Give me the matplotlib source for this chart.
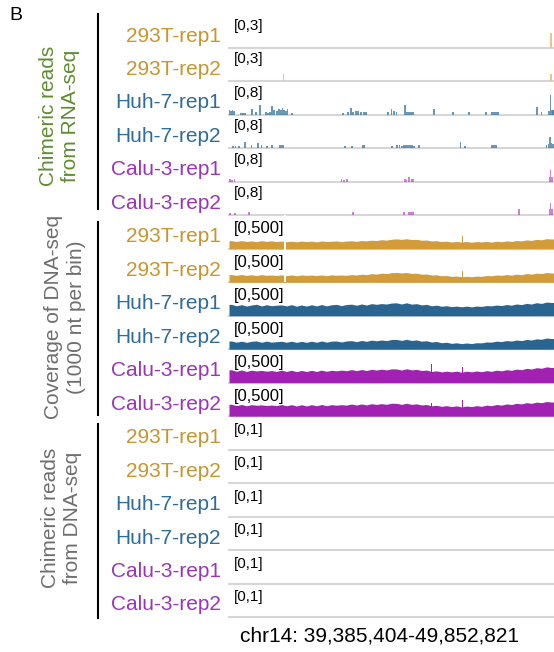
import numpy as np
import matplotlib
matplotlib.use("Agg")
import matplotlib.pyplot as plt
from matplotlib.lines import Line2D

plt.rcParams['font.family'] = ['Liberation Sans', 'DejaVu Sans']

# ---------------- data ----------------
region_label = "chr14: 39,385,404-49,852,821"
START_MB = 39.385404
END_MB = 49.852821

samples = ['293T-rep1', '293T-rep2', 'Huh-7-rep1', 'Huh-7-rep2', 'Calu-3-rep1', 'Calu-3-rep2']
cell_of_sample = ['293T', '293T', 'Huh-7', 'Huh-7', 'Calu-3', 'Calu-3']

group_titles = ["Chimeric reads\nfrom RNA-seq", "Coverage of DNA-seq\n(1000 nt per bin)", "Chimeric reads\nfrom DNA-seq"]

rna_scale = [3, 3, 8, 8, 8, 8]
cov_scale = [500, 500, 500, 500, 500, 500]
dna_scale = [1, 1, 1, 1, 1, 1]

# Chimeric reads from RNA-seq (position in Mb, read count)
rna_pos_293T_rep1 = [49.757]
rna_val_293T_rep1 = [1.34]
rna_pos_293T_rep2 = [41.134, 49.757]
rna_val_293T_rep2 = [0.67, 0.67]
rna_pos_Huh7_rep1 = [39.401, 39.449, 39.498, 39.546, 39.772, 39.836, 39.900, 40.126, 40.255, 40.384,
                     40.577, 40.641, 40.706, 40.770, 40.834, 40.931, 40.995, 41.060, 41.108, 41.157,
                     41.221, 41.269, 41.414, 43.057, 43.218, 43.315, 43.379, 43.476, 43.540, 43.637,
                     43.733, 43.798, 44.506, 44.626, 44.700, 44.787, 45.054, 45.102, 45.151, 45.215,
                     45.279, 45.328, 45.988, 46.600, 47.115, 47.663, 47.856, 47.904, 47.953, 48.001,
                     48.049, 49.306, 49.450, 49.692, 49.741, 49.789, 49.821]
rna_val_Huh7_rep1 = [1.20, 0.96, 1.20, 0.96, 0.48, 0.48, 0.48, 1.43, 0.72, 2.39,
                     0.72, 0.48, 0.72, 2.15, 1.20, 0.96, 1.43, 1.20, 1.67, 1.20,
                     0.96, 1.43, 0.48, 0.48, 0.72, 1.67, 0.72, 0.96, 0.96, 0.72,
                     0.72, 0.72, 0.72, 1.43, 0.96, 0.72, 2.27, 0.72, 0.72, 0.72,
                     0.72, 0.72, 1.43, 0.72, 0.72, 0.72, 0.72, 0.72, 0.72, 0.72,
                     0.72, 1.91, 0.72, 0.96, 4.78, 1.20, 1.20]
rna_pos_Huh7_rep2 = [39.514, 39.594, 39.707, 39.900, 40.110, 40.319, 40.432, 40.609, 40.770, 41.028,
                     41.076, 41.124, 43.121, 43.347, 43.701, 43.749, 44.635, 44.796, 44.876, 44.957,
                     45.021, 45.086, 45.151, 45.215, 45.279, 45.344, 45.505, 46.841, 46.986, 47.856,
                     47.904, 47.953, 48.001, 49.618, 49.676, 49.725, 49.773, 49.821]
rna_val_Huh7_rep2 = [0.48, 0.48, 0.48, 1.43, 0.72, 1.20, 0.72, 0.48, 0.72, 0.72,
                     0.72, 0.72, 0.48, 0.48, 0.72, 0.72, 0.48, 0.72, 0.72, 0.48,
                     0.72, 0.72, 0.72, 0.72, 0.72, 0.48, 0.72, 1.55, 0.60, 0.72,
                     0.72, 0.72, 0.72, 0.72, 0.96, 2.75, 1.20, 0.96]
rna_pos_Calu3_rep1 = [39.417, 39.482, 39.562, 43.009, 43.089, 43.186, 45.054, 45.102, 45.183, 45.263,
                      45.312, 49.708, 49.741, 49.789]
rna_val_Calu3_rep1 = [0.72, 0.48, 0.72, 0.72, 0.48, 0.72, 0.72, 0.48, 1.08, 0.72,
                      0.72, 1.20, 2.87, 1.20]
rna_pos_Calu3_rep2 = [39.417, 39.578, 40.029, 43.379, 45.021, 45.183, 45.231, 45.279, 45.328, 48.726,
                      49.708, 49.741, 49.789]
rna_val_Calu3_rep2 = [0.48, 0.48, 0.72, 0.72, 0.72, 0.72, 0.72, 0.72, 0.72, 1.55,
                      1.43, 2.87, 1.43]

# Coverage of DNA-seq: values sampled at equally spaced points across the region
cov_293T_rep1 = [121, 110, 123, 111, 118, 107, 122, 112, 119, 108, 116,
                 106, 114, 104, 116, 108, 115, 103, 117, 109, 113, 118, 107, 116, 120, 112,
                 124, 119, 129, 124, 136, 130, 143,
                 149, 141, 151, 139, 142,
                 128, 131, 118, 121, 109, 114, 102, 109,
                 101, 110, 99, 108, 103, 111, 100, 114, 106,
                 118, 111, 124, 119, 133, 126, 141, 135, 151, 147]
cov_293T_rep2 = [115, 104, 117, 103, 113, 100, 115, 104, 109, 101, 111,
                 99, 110, 97, 109, 103, 108, 100, 110, 98, 111, 105, 109, 104, 115, 109,
                 121, 114, 129, 122, 136, 129, 144,
                 147, 139, 146, 133, 136,
                 121, 124, 109, 112, 97, 101, 89, 93,
                 83, 90, 82, 93, 89, 101, 97, 109, 104,
                 115, 108, 121, 114, 130, 122, 137, 131, 146, 139]
cov_Huh7_rep1 = [170, 148, 166, 145, 161, 172, 146, 165, 150, 158, 162,
                 147, 166, 143, 161, 145, 164, 147, 167, 148, 164, 170, 151, 168, 173, 157,
                 176, 160, 181, 171, 182, 175, 190,
                 193, 176, 194, 173, 181,
                 162, 170, 149, 158, 142, 150, 136, 144,
                 134, 143, 133, 145, 140, 152, 148, 160, 152,
                 168, 158, 176, 167, 185, 175, 195, 184, 204, 198]
cov_Huh7_rep2 = [123, 105, 120, 103, 119, 124, 104, 121, 106, 113, 119,
                 104, 120, 102, 118, 103, 120, 105, 123, 106, 121, 123, 108, 124, 128, 114,
                 131, 118, 136, 126, 138, 129, 145,
                 146, 132, 148, 131, 139,
                 120, 127, 108, 116, 97, 104, 88, 96,
                 84, 93, 85, 97, 95, 108, 106, 121, 115,
                 129, 122, 137, 129, 146, 138, 155, 149, 167, 160]
cov_Calu3_rep1 = [193, 171, 190, 168, 187, 176, 184, 172, 181, 169, 188,
                  168, 186, 165, 183, 167, 185, 168, 188, 170, 186, 177, 188, 179, 196, 180,
                  197, 182, 200, 189, 202, 191, 207,
                  205, 189, 208, 191, 199,
                  182, 189, 168, 177, 161, 172, 162, 172,
                  157, 172, 162, 175, 164, 180, 170, 187, 177,
                  194, 185, 203, 194, 214, 204, 224, 216, 236, 227]
cov_Calu3_rep2 = [178, 158, 175, 155, 172, 163, 169, 160, 166, 158, 174,
                  155, 172, 152, 171, 153, 172, 155, 174, 157, 172, 164, 172, 165, 181, 166,
                  183, 168, 186, 176, 187, 177, 193,
                  192, 176, 193, 176, 184,
                  167, 174, 154, 162, 147, 157, 143, 154,
                  138, 152, 143, 157, 147, 165, 156, 174, 165,
                  183, 174, 192, 183, 202, 192, 210, 201, 219, 211]

# narrow spikes in the coverage (position Mb, value) and zero-coverage gaps (position Mb)
covspike_pos = [[46.91], [46.91], [], [], [45.91, 46.91], [45.91, 46.91]]
covspike_val = [[185], [170], [], [], [285, 228], [200, 240]]
covgap_pos = [[41.19], [41.19], [], [], [], []]

# Chimeric reads from DNA-seq: none in this region
dna_pos = [[], [], [], [], [], []]
dna_val = [[], [], [], [], [], []]

rna_pos = [rna_pos_293T_rep1, rna_pos_293T_rep2, rna_pos_Huh7_rep1, rna_pos_Huh7_rep2, rna_pos_Calu3_rep1, rna_pos_Calu3_rep2]
rna_val = [rna_val_293T_rep1, rna_val_293T_rep2, rna_val_Huh7_rep1, rna_val_Huh7_rep2, rna_val_Calu3_rep1, rna_val_Calu3_rep2]
cov_vals = [cov_293T_rep1, cov_293T_rep2, cov_Huh7_rep1, cov_Huh7_rep2, cov_Calu3_rep1, cov_Calu3_rep2]

# ---------------- style ----------------
label_col = {'293T': '#c9952d', 'Huh-7': '#2e6c9a', 'Calu-3': '#9a35b9'}
cov_col = {'293T': '#d39c3b', 'Huh-7': '#2a6592', 'Calu-3': '#a021b2'}
rna_col = {'293T': '#f0c285', 'Huh-7': '#2e6c9a', 'Calu-3': '#b02cc0'}
rna_alpha = {'293T': 1.0, 'Huh-7': 0.7, 'Calu-3': 0.6}
group_col = ['#5e8c31', '#6e6e6e', '#6e6e6e']

W, H = 554, 652
fig = plt.figure(figsize=(W / 100, H / 100), dpi=100)

X0, X1 = 229, 554
BASE0 = 48.0
STEP = 33.47


def fx(x):
    return x / W


def fy(y):
    return 1 - y / H


for g in range(3):
    for k in range(6):
        i = g * 6 + k
        base = BASE0 + STEP * i
        ax = fig.add_axes([fx(X0), fy(base), fx(X1 - X0), STEP / H])
        ax.set_xlim(START_MB, END_MB)
        cell = cell_of_sample[k]
        if g == 0:
            scale = rna_scale[k]
            ax.bar(rna_pos[k], rna_val[k], width=0.05, color=rna_col[cell],
                   alpha=rna_alpha[cell], lw=0, zorder=2)
            rng = f"[0,{scale}]"
            off, fs = 22, 11
        elif g == 1:
            scale = cov_scale[k]
            v = np.asarray(cov_vals[k], float)
            n = len(v)
            edges = np.linspace(START_MB, END_MB, n + 1)
            xs = np.concatenate([[START_MB], 0.5 * (edges[:-1] + edges[1:]), [END_MB]])
            ys = np.concatenate([[v[0]], v, [v[-1]]])
            ax.fill_between(xs, 0, ys, color=cov_col[cell], lw=0, zorder=2)
            ax.bar(covspike_pos[k], covspike_val[k], width=0.035, color=cov_col[cell], lw=0, zorder=2)
            ax.bar(covgap_pos[k], [scale] * len(covgap_pos[k]), width=0.045, color='white', lw=0, zorder=3)
            rng = f"[0,{scale}]"
            off, fs = 20, 12
        else:
            scale = dna_scale[k]
            ax.bar(dna_pos[k], dna_val[k], width=0.05, color=cov_col[cell], lw=0)
            rng = f"[0,{scale}]"
            off, fs = 20, 11
        ax.set_ylim(0, scale)
        ax.axhline(0, color='#d6d6d6', lw=1.5, zorder=1, clip_on=False)
        ax.axis('off')
        fig.text(fx(233.5), fy(base - off), rng, fontsize=fs, va='center', ha='left', color='black')
        fig.text(fx(221), fy(base - 12), samples[k], fontsize=15, va='center', ha='right',
                 color=label_col[cell])

# group brackets and titles
bracket_spans = [(14, 209), (222, 415), (424, 618)]
title_x = [60, 65, 62]
for g in range(3):
    y0, y1 = bracket_spans[g]
    fig.add_artist(Line2D([fx(97.5), fx(97.5)], [fy(y0), fy(y1)], color='black', lw=1.5))
    top = BASE0 + STEP * (g * 6) - STEP
    bot = BASE0 + STEP * (g * 6 + 5)
    fig.text(fx(title_x[g]), fy(0.5 * (top + bot) + 1), group_titles[g], rotation=90,
             ha='center', va='center', multialignment='center', fontsize=15, color=group_col[g])

fig.text(fx(9), fy(7), "B", fontsize=14, va='top', ha='left', color='black')
fig.text(fx(380), fy(636), region_label, fontsize=15, va='center', ha='center', color='black')

fig.savefig("out.png", dpi=100)
